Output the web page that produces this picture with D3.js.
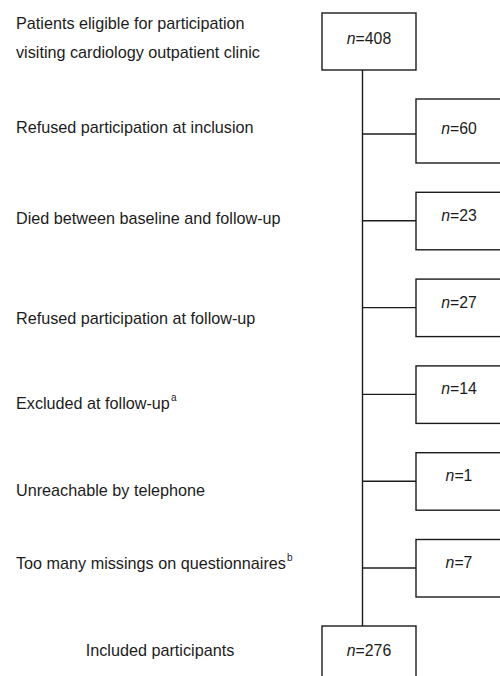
<!DOCTYPE html>
<html>
<head>
<meta charset="utf-8">
<script src="https://cdn.jsdelivr.net/npm/d3@7"></script>
<style>
  html, body { margin: 0; padding: 0; background: #fff; }
  text { font-family: "Liberation Sans", Arial, Helvetica, sans-serif; fill: #1c1c1c; }
</style>
</head>
<body>
<svg id="chart" width="500" height="676"></svg>
<script>
// flow data
const eligibleLines = ["Patients eligible for participation", "visiting cardiology outpatient clinic"];
const eligibleN = 408;
const steps = [
  "Refused participation at inclusion",
  "Died between baseline and follow-up",
  "Refused participation at follow-up",
  "Excluded at follow-up",
  "Unreachable by telephone",
  "Too many missings on questionnaires"
];
const stepNotes = ["", "", "", "a", "", "b"];
const excluded = [60, 23, 27, 14, 1, 7];
const includedLabel = "Included participants";
const includedN = 276;

// layout
const spineX = 362.5;
const mainBox = { x0: 322, x1: 416 };
const sideX = 416;
const labelX = 16;
const labelNudge = [-7, -3, 10, 9, 9, -5];
const stroke = "#1c1c1c";
const fs = 16.2;

const svg = d3.select("#chart");

const y = d3.scaleLinear()
  .domain([0, steps.length - 1])
  .range([134, 568]);

const topBox = { y0: 13, y1: 70 };
const bottomBox = { y0: 626, y1: 700 };

// spine
svg.append("line")
  .attr("x1", spineX).attr("x2", spineX)
  .attr("y1", topBox.y1).attr("y2", bottomBox.y0)
  .attr("stroke", stroke).attr("stroke-width", 1.4);

function nText(sel, x, cy, n) {
  const t = sel.append("text")
    .attr("x", x).attr("y", cy)
    .attr("text-anchor", "middle")
    .attr("dominant-baseline", "central")
    .attr("font-size", 15.8);
  t.append("tspan").attr("font-style", "italic").text("n");
  t.append("tspan").text("=" + n);
}

// top box
svg.append("rect")
  .attr("x", mainBox.x0).attr("y", topBox.y0)
  .attr("width", mainBox.x1 - mainBox.x0).attr("height", topBox.y1 - topBox.y0)
  .attr("fill", "#fff").attr("stroke", stroke).attr("stroke-width", 1.4);
nText(svg, (mainBox.x0 + mainBox.x1) / 2, 38, eligibleN);

svg.selectAll("text.elig")
  .data(eligibleLines)
  .enter()
  .append("text")
  .attr("class", "elig")
  .attr("x", labelX)
  .attr("y", (d, i) => 23 + i * 29)
  .attr("dominant-baseline", "central")
  .attr("font-size", fs)
  .text((d) => d);

// exclusion steps
const g = svg.selectAll("g.step")
  .data(steps)
  .enter()
  .append("g")
  .attr("class", "step");

g.append("line")
  .attr("x1", spineX).attr("x2", sideX)
  .attr("y1", (d, i) => y(i)).attr("y2", (d, i) => y(i))
  .attr("stroke", stroke).attr("stroke-width", 1.4);

g.append("rect")
  .attr("x", sideX)
  .attr("y", (d, i) => y(i) - (i === 0 ? 35 : 28.5))
  .attr("width", 100)
  .attr("height", (d, i) => (i === 0 ? 64 : 57.5))
  .attr("fill", "#fff").attr("stroke", stroke).attr("stroke-width", 1.4);

g.each(function (d, i) {
  nText(d3.select(this), 459, y(i) - 6, excluded[i]);
});

const lbl = g.append("text")
  .attr("x", labelX)
  .attr("y", (d, i) => y(i) + labelNudge[i])
  .attr("dominant-baseline", "central")
  .attr("font-size", fs);
lbl.append("tspan").text((d) => d);
lbl.append("tspan")
  .attr("font-size", 10)
  .attr("dy", -6)
  .attr("dx", 1)
  .text((d, i) => stepNotes[i]);

// bottom box
svg.append("rect")
  .attr("x", mainBox.x0).attr("y", bottomBox.y0)
  .attr("width", mainBox.x1 - mainBox.x0).attr("height", bottomBox.y1 - bottomBox.y0)
  .attr("fill", "#fff").attr("stroke", stroke).attr("stroke-width", 1.4);
nText(svg, (mainBox.x0 + mainBox.x1) / 2, 650, includedN);

svg.append("text")
  .attr("x", 160)
  .attr("y", 650)
  .attr("text-anchor", "middle")
  .attr("dominant-baseline", "central")
  .attr("font-size", fs)
  .text(includedLabel);
</script>
</body>
</html>
